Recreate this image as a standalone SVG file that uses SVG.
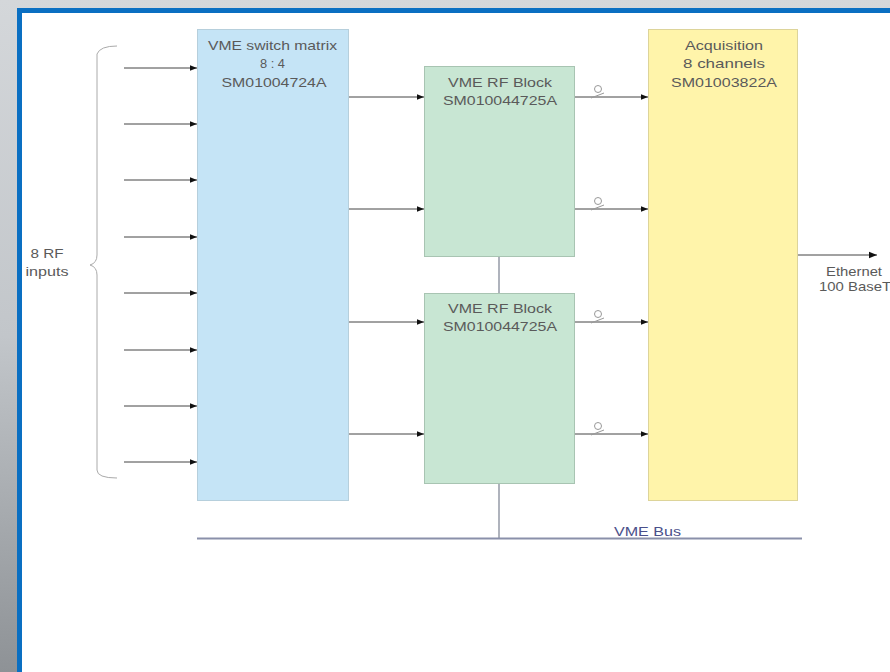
<svg xmlns="http://www.w3.org/2000/svg" width="890" height="672" viewBox="0 0 890 672">
<defs>
<linearGradient id="bg" x1="0" y1="0" x2="0" y2="1">
<stop offset="0" stop-color="#d4d7da"/>
<stop offset="0.5" stop-color="#c2c6ca"/>
<stop offset="1" stop-color="#8e9296"/>
</linearGradient>
<marker id="ah" viewBox="0 0 10 10" refX="10" refY="5" markerWidth="8" markerHeight="7" markerUnits="userSpaceOnUse" orient="auto">
<path d="M0,1 L10,5 L0,9 Z" fill="#111"/>
</marker>
<marker id="ah2" viewBox="0 0 10 10" refX="10" refY="5" markerWidth="11" markerHeight="8" markerUnits="userSpaceOnUse" orient="auto">
<path d="M0,1 L10,5 L0,9 Z" fill="#111"/>
</marker>
<g id="loop" fill="none" stroke="#999" stroke-width="1">
<circle cx="0" cy="-6" r="3.5"/>
<path d="M-7,3 L6,-2"/>
</g>
</defs>
<style>
text{font-family:"Liberation Sans",Arial,sans-serif;font-size:13px;fill:#5a5a5a;}
.c{text-anchor:middle;}
.ln{stroke:#444;stroke-width:1;fill:none;}
.gl{stroke:#aaa;stroke-width:1;fill:none;}
</style>
<rect x="0" y="0" width="890" height="672" fill="url(#bg)"/>
<rect x="19.5" y="10.5" width="880" height="680" fill="#ffffff" stroke="#0a6fc2" stroke-width="5"/>

<g id="brace">
<path d="M117,46 Q100,46 97,54 L97,255 Q97,263 90,265 Q97,267 97,275 L97,470 Q97,478 117,478" class="gl"/>
</g>
<g id="rf-inputs-label">
<text x="47" y="258" class="c" textLength="33" lengthAdjust="spacingAndGlyphs">8 RF</text>
<text x="47" y="276" class="c" textLength="43" lengthAdjust="spacingAndGlyphs">inputs</text>
</g>

<g id="switch-matrix">
<rect x="197.5" y="29.5" width="151" height="471" fill="#c5e4f6" stroke="#b6cfdc"/>
<text x="272.5" y="50" class="c" textLength="129" lengthAdjust="spacingAndGlyphs">VME switch matrix</text>
<text x="272.5" y="68" class="c" textLength="25" lengthAdjust="spacingAndGlyphs">8 : 4</text>
<text x="274" y="87" class="c" textLength="105" lengthAdjust="spacingAndGlyphs">SM01004724A</text>
</g>

<g id="rf-block-1">
<rect x="424.5" y="66.5" width="150" height="190" fill="#c8e6d3" stroke="#a8c4b2"/>
<text x="500" y="87" class="c" textLength="104" lengthAdjust="spacingAndGlyphs">VME RF Block</text>
<text x="500" y="105" class="c" textLength="114" lengthAdjust="spacingAndGlyphs">SM010044725A</text>
</g>

<g id="rf-block-2">
<rect x="424.5" y="293.5" width="150" height="190" fill="#c8e6d3" stroke="#a8c4b2"/>
<text x="500" y="313" class="c" textLength="104" lengthAdjust="spacingAndGlyphs">VME RF Block</text>
<text x="500" y="331" class="c" textLength="114" lengthAdjust="spacingAndGlyphs">SM010044725A</text>
</g>

<g id="acquisition">
<rect x="648.5" y="29.5" width="149" height="471" fill="#fff4aa" stroke="#ddd49a"/>
<text x="724" y="50" class="c" textLength="78" lengthAdjust="spacingAndGlyphs">Acquisition</text>
<text x="724" y="68" class="c" textLength="82" lengthAdjust="spacingAndGlyphs">8 channels</text>
<text x="724" y="87" class="c" textLength="106" lengthAdjust="spacingAndGlyphs">SM01003822A</text>
</g>

<g id="ethernet-label">
<text x="826" y="276" textLength="56" lengthAdjust="spacingAndGlyphs">Ethernet</text>
<text x="819" y="291" textLength="72" lengthAdjust="spacingAndGlyphs">100 BaseT</text>
</g>

<g id="vme-bus-label">
<text x="614" y="536" textLength="67" lengthAdjust="spacingAndGlyphs" style="fill:#4a4f8a">VME Bus</text>
</g>

<g id="connectors">
<line x1="124" y1="68" x2="197" y2="68" class="ln" marker-end="url(#ah)"/>
<line x1="124" y1="124" x2="197" y2="124" class="ln" marker-end="url(#ah)"/>
<line x1="124" y1="180" x2="197" y2="180" class="ln" marker-end="url(#ah)"/>
<line x1="124" y1="237" x2="197" y2="237" class="ln" marker-end="url(#ah)"/>
<line x1="124" y1="293" x2="197" y2="293" class="ln" marker-end="url(#ah)"/>
<line x1="124" y1="350" x2="197" y2="350" class="ln" marker-end="url(#ah)"/>
<line x1="124" y1="406" x2="197" y2="406" class="ln" marker-end="url(#ah)"/>
<line x1="124" y1="462" x2="197" y2="462" class="ln" marker-end="url(#ah)"/>

<line x1="349" y1="97" x2="424" y2="97" class="ln" marker-end="url(#ah)"/>
<line x1="349" y1="209" x2="424" y2="209" class="ln" marker-end="url(#ah)"/>
<line x1="349" y1="322" x2="424" y2="322" class="ln" marker-end="url(#ah)"/>
<line x1="349" y1="434" x2="424" y2="434" class="ln" marker-end="url(#ah)"/>

<line x1="575" y1="97" x2="648" y2="97" class="ln" stroke="#999" marker-end="url(#ah)"/>
<line x1="575" y1="209" x2="648" y2="209" class="ln" stroke="#999" marker-end="url(#ah)"/>
<line x1="575" y1="322" x2="648" y2="322" class="ln" stroke="#999" marker-end="url(#ah)"/>
<line x1="575" y1="434" x2="648" y2="434" class="ln" stroke="#999" marker-end="url(#ah)"/>
<use href="#loop" x="598" y="95"/>
<use href="#loop" x="598" y="207"/>
<use href="#loop" x="598" y="320"/>
<use href="#loop" x="598" y="432"/>

<line x1="499" y1="257" x2="499" y2="293" stroke="#7a8090" stroke-width="1.2"/>
<line x1="499" y1="484" x2="499" y2="538" stroke="#7a8090" stroke-width="1.2"/>
<line x1="197" y1="538.5" x2="802" y2="538.5" stroke="#8a90aa" stroke-width="2"/>

<line x1="798" y1="255" x2="877" y2="255" class="ln" stroke="#222" marker-end="url(#ah2)"/>
</g>
</svg>
